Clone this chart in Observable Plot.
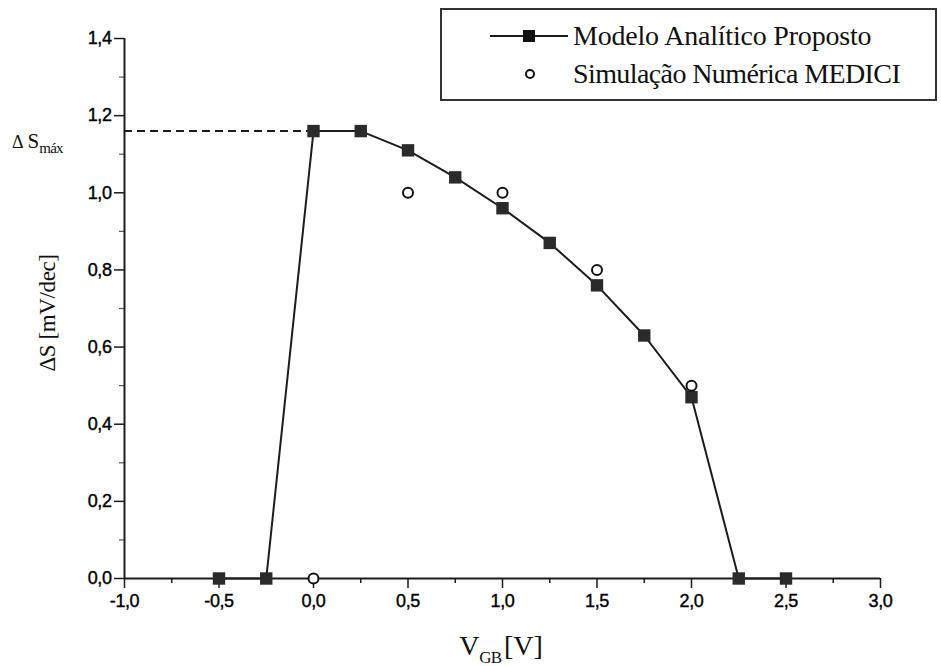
<!DOCTYPE html>
<html>
<head>
<meta charset="utf-8">
<script src="https://cdn.jsdelivr.net/npm/d3@7"></script>
<script src="https://cdn.jsdelivr.net/npm/@observablehq/plot@0.6"></script>
<style>
  body { margin: 0; background: #fff; }
  #wrap { position: relative; width: 941px; height: 666px; }
  #legend {
    position: absolute; left: 440px; top: 8px; width: 497px; height: 93px;
    box-sizing: border-box; border: 2px solid #333; background: #fff;
    font-family: "Liberation Serif", "Times New Roman", serif; color: #111;
  }
  #legend .row { position: absolute; left: 0; height: 36px; display: flex; align-items: center; }
  #legend .row span { position: absolute; left: 131px; font-size: 28px; white-space: nowrap; letter-spacing: -0.2px; }
  #legend .row span.second { letter-spacing: -0.6px; }
  #legend svg { position: absolute; left: 48px; }
</style>
</head>
<body>
<div id="wrap"></div>
<script>
// ---- Data ----
const modelVgb    = [-0.5, -0.25, 0.0, 0.25, 0.5, 0.75, 1.0, 1.25, 1.5, 1.75, 2.0, 2.25, 2.5];
const modelDeltaS = [0.0, 0.0, 1.16, 1.16, 1.11, 1.04, 0.96, 0.87, 0.76, 0.63, 0.47, 0.0, 0.0];
const mediciVgb    = [0.0, 0.5, 1.0, 1.5, 2.0];
const mediciDeltaS = [0.0, 1.0, 1.0, 0.80, 0.50];
const xMajorTicks = [-1.0, -0.5, 0.0, 0.5, 1.0, 1.5, 2.0, 2.5, 3.0];
const xMinorTicks = [-0.75, -0.25, 0.25, 0.75, 1.25, 1.75, 2.25, 2.75];
const yMajorTicks = [0.0, 0.2, 0.4, 0.6, 0.8, 1.0, 1.2, 1.4];
const yMinorTicks = [0.1, 0.3, 0.5, 0.7, 0.9, 1.1, 1.3];
const seriesNames = ["Modelo Analítico Proposto", "Simulação Numérica MEDICI"];

const model  = modelVgb.map((x, i) => ({x, y: modelDeltaS[i]}));
const medici = mediciVgb.map((x, i) => ({x, y: mediciDeltaS[i]}));
const dSmax = d3.max(modelDeltaS);
const xAtMax = modelVgb[modelDeltaS.indexOf(dSmax)];
const fmt = d => d.toFixed(1).replace(".", ",");
const ink = "#1c1c1c";

const plot = Plot.plot({
  width: 941,
  height: 666,
  marginLeft: 124,
  marginRight: 61,
  marginTop: 38,
  marginBottom: 88,
  x: {domain: [xMajorTicks[0], xMajorTicks[xMajorTicks.length - 1]]},
  y: {domain: [yMajorTicks[0], yMajorTicks[yMajorTicks.length - 1]]},
  style: {fontFamily: "'Liberation Sans', Arial, sans-serif", color: "#000", background: "#fff"},
  marks: [
    Plot.axisX(xMajorTicks, {tickSize: 10, tickPadding: 6, tickFormat: fmt, label: null, stroke: ink, strokeWidth: 1.5, fill: "#000"}),
    Plot.axisX(xMinorTicks, {tickSize: 5, tickFormat: () => "", label: null, stroke: ink, strokeWidth: 1.5}),
    Plot.axisY(yMajorTicks, {tickSize: 10, tickPadding: 3, tickFormat: fmt, label: null, stroke: ink, strokeWidth: 1.5, fill: "#000"}),
    Plot.axisY(yMinorTicks, {tickSize: 5, tickFormat: () => "", label: null, stroke: "#555", strokeWidth: 1.2}),
    Plot.ruleX([xMajorTicks[0]], {stroke: ink, strokeWidth: 2}),
    Plot.ruleY([yMajorTicks[0]], {stroke: ink, strokeWidth: 2}),
    Plot.ruleY([dSmax], {x1: xMajorTicks[0], x2: xAtMax, stroke: ink, strokeWidth: 2, strokeDasharray: "8,5"}),
    Plot.line(model, {x: "x", y: "y", stroke: ink, strokeWidth: 2}),
    Plot.dot(model, {x: "x", y: "y", symbol: "square", r: 7, fill: "#2a2a2a", stroke: "none"}),
    Plot.dot(medici, {x: "x", y: "y", r: 5, fill: "#fff", stroke: "#111", strokeWidth: 2})
  ]
});

const wrap = document.getElementById("wrap");
wrap.appendChild(plot);

const svg = d3.select(plot);
// Plot's own tick labels: larger, black, slightly heavier (scanned look)
svg.selectAll("text")
  .style("font-size", "18px")
  .style("letter-spacing", "-0.4px")
  .attr("fill", "#000")
  .attr("stroke", "#000")
  .attr("stroke-width", 0.4);

const ys = plot.scale("y");
const serif = "'Liberation Serif', 'Times New Roman', serif";

svg.append("text")
  .attr("transform", "translate(55,313) rotate(-90)")
  .attr("text-anchor", "middle")
  .attr("font-family", serif).attr("font-size", 23).attr("letter-spacing", -0.4).attr("fill", "#111")
  .text("ΔS [mV/dec]");

const xl = svg.append("text")
  .attr("x", 501).attr("y", 655)
  .attr("text-anchor", "middle")
  .attr("font-family", serif).attr("fill", "#111");
xl.append("tspan").attr("font-size", 28).text("V");
xl.append("tspan").attr("font-size", 17).attr("dy", 8).attr("letter-spacing", -1).text("GB");
xl.append("tspan").attr("font-size", 28).attr("dy", -8).attr("dx", 3).text("[V]");

const yMaxPx = ys.apply(dSmax);
const ml = svg.append("text")
  .attr("x", 12).attr("y", yMaxPx + 17)
  .attr("text-anchor", "start")
  .attr("font-family", serif).attr("fill", "#111");
ml.append("tspan").attr("font-size", 18).text("Δ");
ml.append("tspan").attr("font-size", 21).attr("dx", 4).text("S");
ml.append("tspan").attr("font-size", 15).attr("dy", 5).attr("letter-spacing", -0.8).text("máx");

// Legend
const legend = document.createElement("div");
legend.id = "legend";
legend.innerHTML = `
  <div class="row" style="top:8px;width:100%">
    <svg width="82" height="20" viewBox="0 0 82 20"><line x1="0" y1="10" x2="78" y2="10" stroke="${ink}" stroke-width="2"/><rect x="33" y="4" width="12" height="12" fill="#111"/></svg>
    <span>${seriesNames[0]}</span>
  </div>
  <div class="row" style="top:46px;width:100%">
    <svg width="82" height="20" viewBox="0 0 82 20"><circle cx="40" cy="10" r="4" fill="#fff" stroke="#111" stroke-width="2"/></svg>
    <span class="second">${seriesNames[1]}</span>
  </div>`;
wrap.appendChild(legend);
</script>
</body>
</html>
